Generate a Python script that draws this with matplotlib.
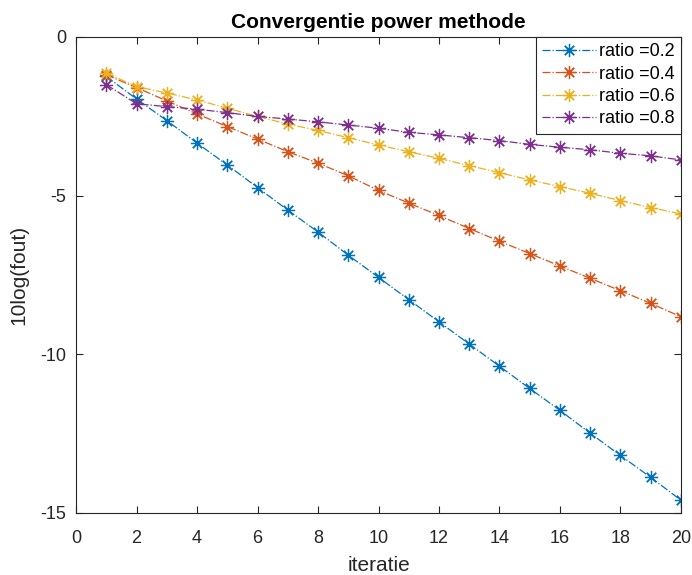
import numpy as np
import matplotlib
matplotlib.use("Agg")
import matplotlib.pyplot as plt

plt.rcParams['font.family'] = ['Liberation Sans', 'DejaVu Sans']
plt.rcParams['axes.unicode_minus'] = False

# data
iterations = list(range(1, 21))
labels = ['ratio =0.2', 'ratio =0.4', 'ratio =0.6', 'ratio =0.8']
err_02 = [-1.25, -1.96, -2.64, -3.35, -4.04, -4.75, -5.46, -6.15, -6.88, -7.58,
          -8.28, -8.98, -9.68, -10.38, -11.08, -11.77, -12.49, -13.19, -13.88, -14.6]
err_04 = [-1.2, -1.6, -2.02, -2.43, -2.83, -3.22, -3.62, -3.98, -4.38, -4.84,
          -5.24, -5.63, -6.04, -6.44, -6.83, -7.22, -7.61, -8.0, -8.4, -8.82]
err_06 = [-1.14, -1.57, -1.77, -1.99, -2.25, -2.51, -2.75, -2.95, -3.18, -3.41,
          -3.62, -3.83, -4.06, -4.28, -4.51, -4.72, -4.93, -5.16, -5.38, -5.58]
err_08 = [-1.51, -2.11, -2.2, -2.28, -2.39, -2.51, -2.59, -2.68, -2.78, -2.88,
          -3.01, -3.09, -3.18, -3.27, -3.39, -3.48, -3.56, -3.67, -3.75, -3.88]
series = [err_02, err_04, err_06, err_08]
colors = ['#0072BD', '#D95319', '#EDB120', '#7E2F8E']

fig = plt.figure(figsize=(6.92, 5.75), dpi=100)
ax = fig.add_axes([0.110, 0.108, 0.874, 0.828])

asterisk = (8, 2, 0)  # matlab style '*'
for ys, lab, c in zip(series, labels, colors):
    ax.plot(iterations, ys, linestyle='-.', marker=asterisk, color=c, linewidth=0.9,
            markersize=9.5, markeredgewidth=0.9, label=lab)

ax.set_xlim(0, 20)
ax.set_ylim(-15, 0)
ax.set_xticks(np.arange(0, 21, 2))
ax.set_yticks([-15, -10, -5, 0])

grey = '#262626'
for sp in ax.spines.values():
    sp.set_color(grey)
    sp.set_linewidth(0.8)
ax.tick_params(direction='in', top=True, right=True, length=5, width=0.8,
               colors=grey, labelsize=13)
ax.tick_params(axis='x', pad=12)
ax.tick_params(axis='y', pad=7)

ax.set_title('Convergentie power methode', fontsize=15, fontweight='bold', color='black', pad=6)
ax.set_xlabel('iteratie', fontsize=15, color=grey, labelpad=7)
ax.set_ylabel('10log(fout)', fontsize=15, color=grey, labelpad=9)

leg = ax.legend(loc='upper right', fontsize=13, frameon=True, fancybox=False,
                borderaxespad=0.0, handlelength=3.0, handletextpad=0.15,
                labelspacing=0.3, borderpad=0.35, framealpha=1)
leg.get_frame().set_edgecolor(grey)
leg.get_frame().set_linewidth(0.8)

fig.savefig('out.png', dpi=100)
